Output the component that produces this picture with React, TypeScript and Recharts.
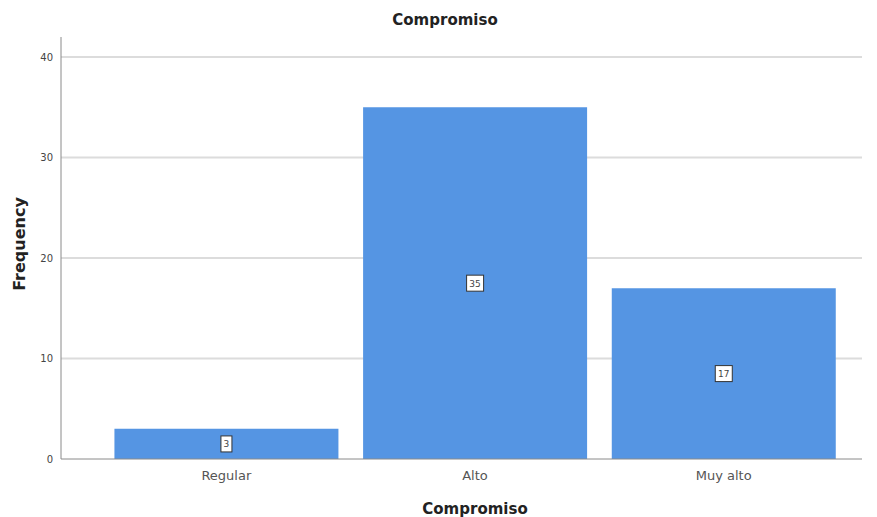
import React from "react";
import {
  BarChart,
  Bar,
  XAxis,
  YAxis,
  CartesianGrid,
  LabelList,
  Label,
} from "recharts";

const categories = ["Regular", "Alto", "Muy alto"];
const frequencies = [3, 35, 17];
const yTicks = [0, 10, 20, 30, 40];

const data = categories.map((name, i) => ({ name, value: frequencies[i] }));

const FONT = "'DejaVu Sans', Verdana, sans-serif";

// small boxed count in the middle of each bar
const BoxLabel = (props: any) => {
  const { x, y, width, height, value } = props;
  const cx = x + width / 2;
  const cy = y + height / 2;
  const w = String(value).length > 1 ? 17 : 11;
  return (
    <g>
      <rect
        x={cx - w / 2}
        y={cy - 8}
        width={w}
        height={16}
        fill="#fff"
        stroke="#333"
        strokeWidth={1}
      />
      <text
        x={cx}
        y={cy + 3.5}
        textAnchor="middle"
        fontSize={9}
        fontFamily={FONT}
        fill="#444"
      >
        {value}
      </text>
    </g>
  );
};

export default function App() {
  return (
    <div
      style={{
        position: "absolute",
        left: 0,
        top: 0,
        width: 877,
        height: 517,
        background: "#fff",
        fontFamily: FONT,
      }}
    >
      <div
        style={{
          position: "absolute",
          left: 0,
          top: 11,
          width: 890,
          textAlign: "center",
          fontWeight: "bold",
          fontSize: 15,
          color: "#222",
        }}
      >
        Compromiso
      </div>
      <BarChart
        width={877}
        height={517}
        data={data}
        margin={{ top: 37, right: 15, bottom: 28, left: 0 }}
        barCategoryGap="5%"
      >
        <CartesianGrid
          vertical={false}
          horizontalValues={[10, 20, 30, 40]}
          stroke="#dcdcdc"
          strokeWidth={2}
        />
        <XAxis
          dataKey="name"
          height={30}
          padding={{ left: 41, right: 14 }}
          tickLine={false}
          axisLine={{ stroke: "#8a8a8a" }}
          tick={{ fontSize: 13, fill: "#555", fontFamily: FONT }}
          tickMargin={6}
        >
          <Label
            content={() => (
              <text
                x={475}
                y={514}
                textAnchor="middle"
                fontSize={15}
                fontWeight="bold"
                fontFamily={FONT}
                fill="#222"
              >
                Compromiso
              </text>
            )}
          />
        </XAxis>
        <YAxis
          width={61}
          domain={[0, 42]}
          ticks={yTicks}
          tickLine={false}
          axisLine={{ stroke: "#8a8a8a" }}
          tick={{ fontSize: 10, fill: "#444", fontFamily: FONT }}
          tickMargin={2}
        >
          <Label
            content={() => (
              <text
                x={25}
                y={244}
                transform="rotate(-90 25 244)"
                textAnchor="middle"
                fontSize={16}
                fontWeight="bold"
                fontFamily={FONT}
                fill="#222"
              >
                Frequency
              </text>
            )}
          />
        </YAxis>
        <Bar dataKey="value" fill="#5595e3" isAnimationActive={false}>
          <LabelList dataKey="value" content={BoxLabel} />
        </Bar>
      </BarChart>
    </div>
  );
}
